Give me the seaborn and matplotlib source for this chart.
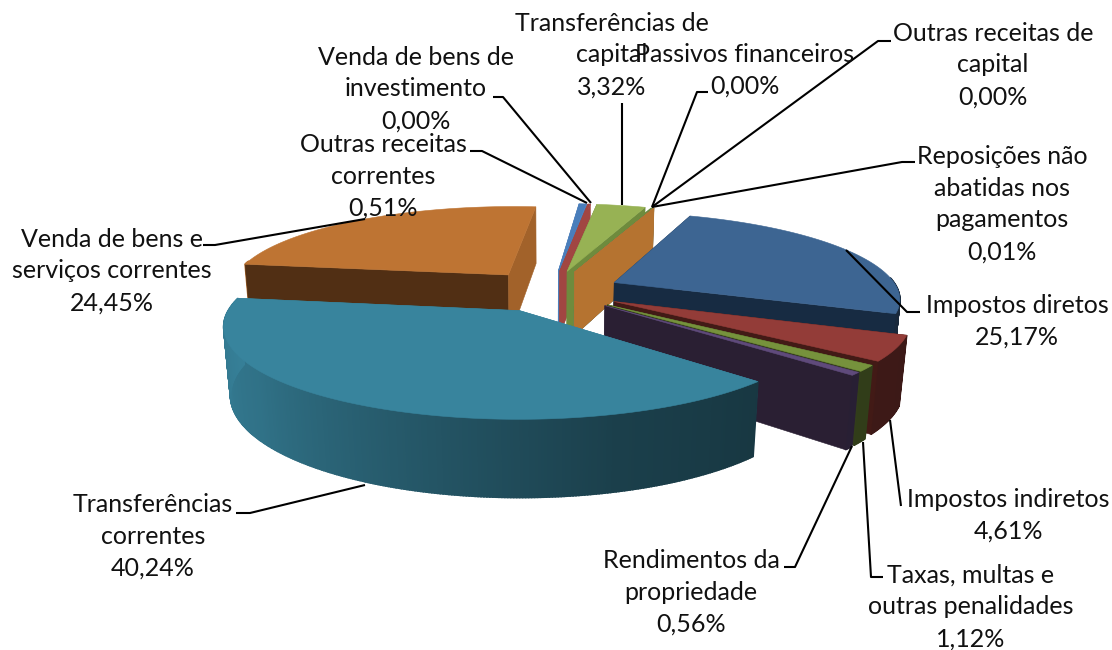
import numpy as np
import pandas as pd
import matplotlib
matplotlib.use("Agg")
import matplotlib.pyplot as plt
import seaborn as sns

categories = ["Impostos diretos", "Impostos indiretos", "Taxas, multas e outras penalidades",
              "Rendimentos da propriedade", "Transferências correntes",
              "Venda de bens e serviços correntes", "Outras receitas correntes",
              "Venda de bens de investimento", "Transferências de capital",
              "Passivos financeiros", "Outras receitas de capital",
              "Reposições não abatidas nos pagamentos"]
values = [25.17, 4.61, 1.12, 0.56, 40.24, 24.45, 0.51, 0.00, 3.32, 0.00, 0.00, 0.01]
value_labels = ["25,17%", "4,61%", "1,12%", "0,56%", "40,24%", "24,45%", "0,51%", "0,00%",
                "3,32%", "0,00%", "0,00%", "0,01%"]
top_colors = ["#3D6592", "#933C38", "#76923C", "#5F4A7B", "#38849D", "#BE7433",
              "#4A7EBB", "#A14642", "#97B254", "#6E8B3D", "#38849D", "#B57330"]
wall_colors = ["#172B42", "#421A16", "#333D1B", "#2A1F33", "#38849D", "#512F14",
               "#4A7EBB", "#A14642", "#6E8B3D", "#6E8B3D", "#38849D", "#B57330"]
end_wall_colors = ["#172B42", "#421A16", "#333D1B", "#2A1F33", "#367F93", "#A2622A",
                   "#4A7EBB", "#A14642", "#6E8B3D", "#6E8B3D", "#38849D", "#B57330"]
# minimum drawn sweep of the slices that round to 0,00 % (the source draws them as slivers)
min_sweep = [0, 0, 0, 0, 0, 0, 0, 0.18, 0, 0.15, 0, 0]

START, EXPLODE = 17.0, 0.25
CX, CY, R, S, H, K, KU, M = 551, 291, 282, 84, 67, 0.16, -0.015, 0.02
SHEAR, ROLL = 16, 5.5

label_text = ["Impostos diretos", "Impostos indiretos", "Taxas, multas e\noutras penalidades",
              "Rendimentos da\npropriedade", "Transferências\ncorrentes",
              "Venda de bens e\nserviços correntes", "Outras receitas\ncorrentes",
              "Venda de bens de\ninvestimento", "Transferências de\ncapital",
              "Passivos financeiros", "Outras receitas de\ncapital",
              "Reposições não\nabatidas nos\npagamentos"]
label_xy = [(1017, 321), (1008, 515), (971, 607), (691, 592), (153, 536), (112, 271),
            (383, 176), (416, 89), (612, 55), (745, 70), (993, 65), (1002, 204)]
leaders = [[(920, 312), (907, 312), (846, 250)],
           [(901, 506), (890, 420)],
           [(883, 577), (871, 577), (863, 442)],
           [(784, 567), (795, 567), (852, 446)],
           [(236, 513), (250, 513), (365, 485)],
           [(203, 245), (215, 245), (365, 219)],
           [(470, 151), (482, 151), (587, 203)],
           [(493, 97), (503, 97), (591, 203)],
           [(622, 103), (622, 205)],
           [(708, 92), (697, 92), (652, 207)],
           [(891, 41), (878, 41), (652, 207)],
           [(915, 162), (902, 162), (652, 207)]]

df = pd.DataFrame({"categoria": categories, "valor": values, "rotulo": value_labels})
sns.set_theme(style="white")
plt.rcParams["font.family"] = ["Lato", "DejaVu Sans"]
palette = sns.color_palette(top_colors)

fig = plt.figure(figsize=(11.12, 6.5), dpi=100, facecolor="white")
ax = fig.add_axes([0, 0, 1, 1])
ax.set_xlim(0, 1112)
ax.set_ylim(650, 0)
ax.axis("off")


def project(u, v, z):
    w = 1 + K * v + KU * u + M * z
    return CX + (R * u + SHEAR * v) / w, CY + (-S * v + H * z + ROLL * u) / w


def rim_shade(t):
    t = np.mod(t, 360)
    return np.interp(t, [90, 130, 160, 190, 230, 280], [0.40, 0.42, 0.48, 0.64, 0.86, 0.98])


def polygon(points, color, order, lw=0.4):
    xs, ys = zip(*points)
    ax.fill(xs, ys, color=color, lw=lw, zorder=order)


sweep = np.array(values) * 3.6
sweep = np.maximum(sweep, np.array(min_sweep) * 3.6)
sweep = sweep * 360 / sweep.sum()
starts = START + np.concatenate([[0], np.cumsum(sweep)[:-1]])
mids = starts + sweep / 2
order_idx = np.argsort(-np.cos(np.radians(mids)), kind="stable")

for rank, i in enumerate(order_idx):
    a0, a1 = starts[i], starts[i] + sweep[i]
    mid = np.radians(mids[i])
    ox, oy = EXPLODE * np.sin(mid), EXPLODE * np.cos(mid)
    base = rank * 10
    ts = np.linspace(a0, a1, max(2, int(sweep[i] * 2) + 2))
    us = ox + np.sin(np.radians(ts))
    vs = oy + np.cos(np.radians(ts))
    for t, col, sign in ((a0, wall_colors[i], -1), (a1, end_wall_colors[i], 1)):
        un, vn = np.sin(np.radians(t)), np.cos(np.radians(t))
        normal_v = np.cos(np.radians(t + sign * 90))
        face = [project(ox, oy, 0), project(ox + un, oy + vn, 0),
                project(ox + un, oy + vn, 1), project(ox, oy, 1)]
        polygon(face, col, base + (3 if normal_v < 0.02 else 1))
    for j in range(len(ts) - 1):
        tm = (ts[j] + ts[j + 1]) / 2
        if np.cos(np.radians(tm)) > 0.12:
            continue
        base_rgb = np.array(palette[i])
        col = tuple(np.clip(base_rgb * rim_shade(tm), 0, 1))
        quad = [project(us[j], vs[j], 0), project(us[j + 1], vs[j + 1], 0),
                project(us[j + 1], vs[j + 1], 1), project(us[j], vs[j], 1)]
        polygon(quad, col, base + 2, lw=1.2)
    if values[i] > 0 or min_sweep[i] > 0:
        top = [project(ox, oy, 0)] + [project(a, b, 0) for a, b in zip(us, vs)]
        polygon(top, palette[i], base + 4)

for pts in leaders:
    xs, ys = zip(*pts)
    ax.plot(xs, ys, color="black", lw=1.5, zorder=500, solid_capstyle="butt")

for txt, val, (x, y) in zip(label_text, df["rotulo"], label_xy):
    ax.text(x, y, f"{txt}\n{val}", ha="center", va="center", fontsize=18, color="#111111",
            linespacing=1.47, zorder=600)

fig.savefig("out.png", dpi=100, facecolor="white")
